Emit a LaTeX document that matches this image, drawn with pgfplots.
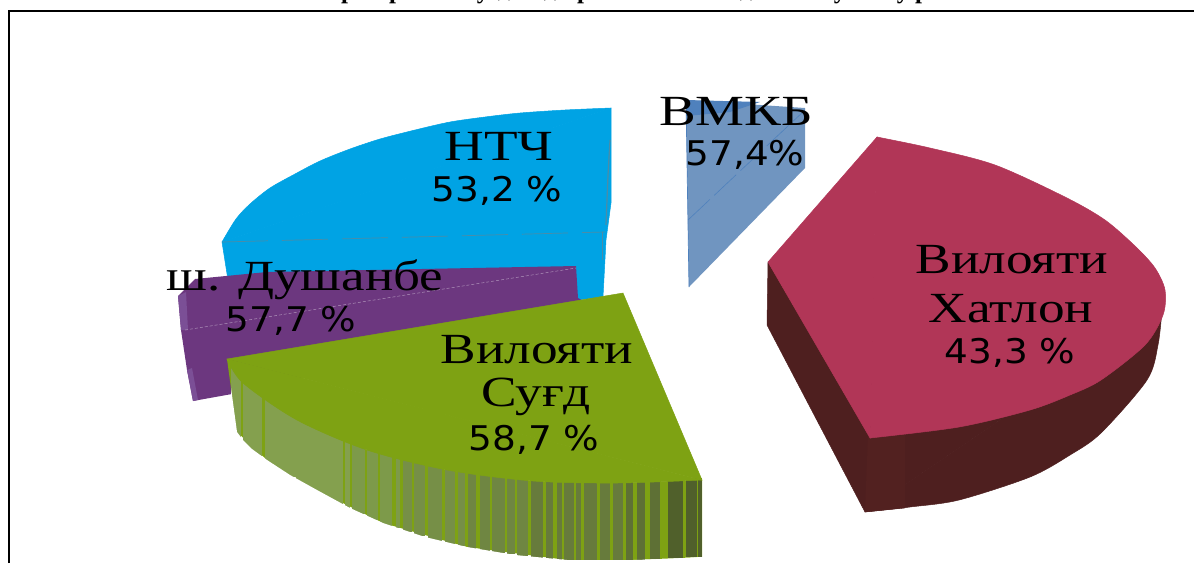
\documentclass[border=0pt]{standalone}
\usepackage{fontspec}
\usepackage{graphicx}
\usepackage{pgfplots}
\pgfplotsset{compat=1.18}
\setmainfont{Liberation Serif}
\newfontfamily\numfont{DejaVu Sans}
\definecolor{red1}{HTML}{B13657}
\definecolor{red2}{HTML}{4E1F1F}
\definecolor{red3}{HTML}{522120}
\definecolor{blue1}{HTML}{7095C0}
\definecolor{blue2}{HTML}{4F81BD}
\definecolor{cyan1}{HTML}{00A3E4}
\definecolor{cyan2}{HTML}{4A8CA8}
\definecolor{purp1}{HTML}{6C377F}
\definecolor{purp2}{HTML}{7B4F96}
\definecolor{gr}{HTML}{7EA213}
\definecolor{g1}{HTML}{84A04E}
\definecolor{g2}{HTML}{7D9A4A}
\definecolor{g3}{HTML}{768F47}
\definecolor{g4}{HTML}{6F8642}
\definecolor{g5}{HTML}{677B3C}
\definecolor{g6}{HTML}{5E7035}
\definecolor{g7}{HTML}{50602B}
\newcommand{\ser}[2]{\scalebox{#1}[1]{\fontsize{43}{46}\selectfont #2}}
\newcommand{\nm}[1]{\scalebox{1.1}[1]{\numfont\fontsize{34}{38}\selectfont #1}}
\newcommand{\gs}[5]{\addplot[fill=#5,draw=none] coordinates {(#1,#3)(#2,#3)(#2,#4)(#1,#4)} -- cycle;}
\newcommand{\tf}[2]{\node[anchor=base,inner sep=0pt,font=\bfseries\fontsize{25}{28}\selectfont] at (axis cs:#1,-1.5) {#2};}
\newcommand{\td}[2]{\node[anchor=base,inner sep=0pt,font=\bfseries\fontsize{25}{28}\selectfont] at (axis cs:#1,-3.5) {#2};}
\begin{document}
\begin{tikzpicture}
\begin{axis}[scale only axis,width=1194pt,height=563pt,xmin=0,xmax=1194,ymin=0,ymax=563,y dir=reverse,hide axis,clip=false]
% frame
\addplot[black,line width=2.2pt] coordinates {(9,563)(9,11)(1194,11)};
% VMKB
\addplot[fill=blue1,draw=none] coordinates {(686,100)(805,108)(805,168)(689,287)} -- cycle;
\addplot[fill=blue2,draw=none] coordinates {(686,100)(760,102)(730,112)(686,116)} -- cycle;
\addplot[blue2,line width=0.7pt] coordinates {(686,100)(689,287)};
\addplot[blue2,line width=0.6pt,dash pattern=on 30pt off 6pt] coordinates {(688,220)(805,110)};
% NTCh
\addplot[fill=cyan1,draw=cyan1,line width=0.5pt] coordinates {(611,108)(222,242)(228,280)(577,300)(603,297)(606,240)(611,203)} -- cycle;
\addplot[smooth,fill=cyan1,draw=cyan1,line width=0.5pt] coordinates {(611,108)(565,110)(520,113)(485,117)(450,122)(415,130)(380,139)(350,149)(320,161)(295,174)(270,188)(250,204)(236,219)(222,242)};
\addplot[cyan1,line width=1pt] coordinates {(609,109)(224,241)};
\addplot[cyan2,line width=1.2pt] coordinates {(610,140)(608,175)(606,225)};
\addplot[cyan2,line width=0.7pt,dash pattern=on 46pt off 14pt] coordinates {(222,242)(605,232)};
\addplot[cyan2,line width=0.8pt] coordinates {(602,232)(602,260)};
% Dushanbe
\addplot[fill=purp1,draw=none] coordinates {(178,296)(195,279)(267,272)(576,266)(578,298)(600,310)(232,394)(193,401)(187,370)(181,330)} -- cycle;
\addplot[fill=purp2,draw=none] coordinates {(178,296)(186,292)(188,330)(181,330)} -- cycle;
\addplot[fill=purp2,draw=none] coordinates {(187,370)(192,368)(198,400)(193,401)} -- cycle;
\addplot[white!45!purp1,line width=0.5pt,dash pattern=on 3pt off 2pt] coordinates {(185,330)(576,268)};
% Sughd side
\addplot[fill=gr,draw=none] coordinates {(227,359)(243,383)(297,420)(367,450)(447,470)(533,481)(617,483)(702,480)(702,557)(633,560)(567,560)(467,547)(383,523)(317,490)(267,460)(237,432)} -- cycle;
\gs{231}{241}{362}{442}{g1}
\gs{243}{262}{381}{456}{g1}
\gs{265}{296}{397}{477}{g1}
\gs{296}{343}{417}{505}{g1}
\gs{345}{350}{439}{510}{g1}
\gs{352}{365}{442}{514}{g2}
\gs{367}{378}{448}{520}{g2}
\gs{380}{392}{452}{526}{g2}
\gs{396}{400}{456}{528}{g2}
\gs{403}{412}{458}{532}{g3}
\gs{414}{425}{461}{536}{g3}
\gs{428}{442}{464}{541}{g3}
\gs{445}{455}{468}{544}{g3}
\gs{458}{465}{470}{546}{g3}
\gs{468}{476}{471}{549}{g4}
\gs{480}{490}{473}{551}{g4}
\gs{492}{505}{474}{553}{g4}
\gs{507}{515}{476}{554}{g4}
\gs{517}{528}{477}{556}{g4}
\gs{531}{543}{479}{558}{g5}
\gs{546}{553}{479}{559}{g5}
\gs{557}{562}{480}{560}{g5}
\gs{564}{574}{480}{560}{g5}
\gs{576}{581}{480}{560}{g5}
\gs{584}{597}{480}{560}{g5}
\gs{600}{610}{481}{560}{g5}
\gs{613}{623}{481}{560}{g5}
\gs{626}{633}{481}{560}{g6}
\gs{637}{645}{481}{560}{g6}
\gs{650}{660}{480}{559}{g6}
\gs{668}{683}{479}{558}{g7}
\gs{686}{697}{478}{557}{g7}
\gs{698}{702}{478}{557}{g7}
% trim below the side
\addplot[fill=white,draw=none] coordinates {(231,388)(237,432)(243,440)(252,449)(267,460)(290,475)(317,490)(350,508)(383,523)(425,537)(467,547)(515,555)(567,560)(633,560)(670,559)(702,557)(722,555)(725,563)(231,563)} -- cycle;
% Sughd top
\addplot[fill=gr,draw=gr,line width=0.5pt] coordinates {(623,293)(227,359)(702,480)} -- cycle;
\addplot[smooth,fill=gr,draw=gr,line width=0.5pt] coordinates {(227,359)(243,383)(297,420)(367,450)(447,470)(533,481)(617,483)(702,480)};
\addplot[gr,line width=1pt] coordinates {(229,360)(700,479)};
% Khatlon side
\addplot[fill=red2,draw=red2,line width=0.5pt] coordinates {(768,262)(767,325)(865,512)(1162,310)} -- cycle;
\addplot[smooth,fill=red2,draw=red2,line width=0.5pt] coordinates {(1162,310)(1158,345)(1147,380)(1101,433)(1070,455)(1030,477)(959,500)(910,507)(865,512)};
\addplot[red2,line width=1pt] coordinates {(1160,312)(867,511)};
\addplot[fill=red3,draw=red3,line width=0.3pt] coordinates {(868,437)(905,435)(905,508)(865,512)} -- cycle;
% Khatlon top
\addplot[fill=red1,draw=red1,line width=0.5pt] coordinates {(877,137)(870,438)(768,262)} -- cycle;
\addplot[smooth,fill=red1,draw=red1,line width=0.5pt] coordinates {(877,137)(930,148)(995,165)(1065,197)(1105,220)(1136,247)(1155,268)(1165,290)(1163,315)(1145,345)(1101,380)(1070,395)(1030,410)(959,427)(870,438)};
\addplot[red1,line width=1pt] coordinates {(877,139)(870,436)};
% labels
\node at (axis cs:736,111) {\ser{1.28}{ВМКБ}};
\node at (axis cs:745,155) {\nm{57,4\%}};
\node at (axis cs:499,146) {\ser{1.28}{НТЧ}};
\node at (axis cs:497,191) {\nm{53,2 \%}};
\node at (axis cs:305,280) {\ser{1.23}{ш. Душанбе}};
\node at (axis cs:291,321) {\nm{57,7 \%}};
\node at (axis cs:537,350) {\ser{1.24}{Вилояти}};
\node at (axis cs:536,397) {\ser{1.24}{Суғд}};
\node at (axis cs:534,440) {\nm{58,7 \%}};
\node at (axis cs:1012,260) {\ser{1.24}{Вилояти}};
\node at (axis cs:1011,309) {\ser{1.24}{Хатлон}};
\node at (axis cs:1010,353) {\nm{43,3 \%}};
% title, cut off by the top edge in the reference
\tf{348}{р}\tf{396}{р}\tf{483}{у}\tf{584}{р}\tf{840}{у}\tf{903}{у}\tf{922}{р}
\td{504}{д}\td{550}{д}\td{746}{д}
\end{axis}
\pgfresetboundingbox
\useasboundingbox (0,0) rectangle (1194pt,563pt);
\end{tikzpicture}
\end{document}
